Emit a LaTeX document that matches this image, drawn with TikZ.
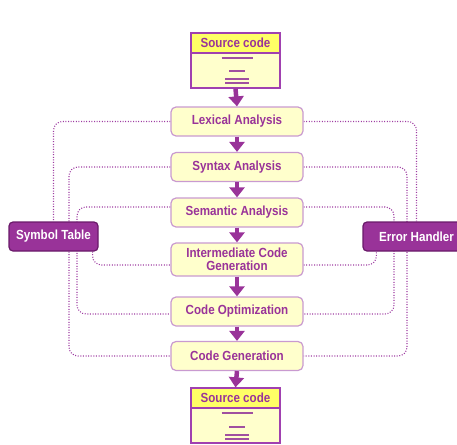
\documentclass[tikz,border=0pt]{standalone}
\usepackage{fontspec}
\setmainfont[FakeStretch=0.88]{Liberation Sans}
\usetikzlibrary{arrows.meta,calc,backgrounds}
\definecolor{pur}{HTML}{993399}
\definecolor{boxfill}{HTML}{FFFFCC}
\definecolor{boxborder}{HTML}{C99AD0}
\definecolor{srcborder}{HTML}{A040B0}
\definecolor{headfill}{HTML}{FFFF66}
\definecolor{dotcol}{HTML}{9E3CA2}
\definecolor{hdark}{HTML}{6A1A6A}
\definecolor{linecol}{HTML}{A050A0}
\begin{document}
\begin{tikzpicture}[x=1pt,y=-1pt,
  lbl/.style={font=\fontsize{13.2}{12.7}\selectfont\bfseries},
  stage/.style={lbl, draw=boxborder, line width=1.2pt, fill=boxfill, rounded corners=5pt,
    minimum width=132pt, minimum height=29pt, inner sep=0pt, text=pur, align=center},
  srcbox/.style={draw=srcborder, line width=1.3pt, fill=boxfill, minimum width=89pt,
    minimum height=55pt, inner sep=0pt},
  srchead/.style={lbl, draw=srcborder, line width=1.3pt, fill=headfill, minimum width=89pt,
    minimum height=20pt, inner sep=0pt, text=pur, anchor=north},
  srcline/.style={draw=linecol, line width=2pt},
  flowarrow/.style={draw=pur, line width=4.5pt, -{Triangle[width=15pt,length=10pt]}},
  dotline/.style={draw=dotcol, line width=1.1pt, dash pattern=on 1pt off 1.6pt, rounded corners=9pt},
  handler/.style={lbl, draw=hdark, line width=1.2pt, fill=pur, rounded corners=4pt,
    minimum height=29pt, inner sep=0pt, text=white}
]
\useasboundingbox (0,0) rectangle (457,444);
\clip (0,0) rectangle (457,444);

% source code (top)
\node[srcbox] (src) at (235.5,60.5) {};
\node[srchead] (srch) at (src.north) {Source code};
\draw[srcline] (221.5,58) -- (252.5,58);
\draw[srcline] (229,71) -- (244.5,71);
\draw[srcline] (225,79) -- (248.5,79);
\draw[srcline] (225,83) -- (248.5,83);

% stages
\node[stage] (lex) at (237,121.5) {Lexical Analysis};
\node[stage] (syn) at (237,167) {Syntax Analysis};
\node[stage] (sem) at (237,212.5) {Semantic Analysis};
\node[stage, minimum height=33pt] (inter) at (237,259.5) {Intermediate Code\\Generation};
\node[stage] (opt) at (237,311.5) {Code Optimization};
\node[stage] (gen) at (237,356) {Code Generation};

% source code (bottom)
\node[srcbox] (src2) at (235.5,415.5) {};
\node[srchead] (srch2) at (src2.north) {Source code};
\draw[srcline] (221.5,413) -- (252.5,413);
\draw[srcline] (229,426.5) -- (244.5,426.5);
\draw[srcline] (225,434.5) -- (248.5,434.5);
\draw[srcline] (225,438.5) -- (248.5,438.5);

% side boxes
\node[handler, minimum width=89pt] (st) at (53.5,236.5) {Symbol Table};
\node[handler, minimum width=107pt] (eh) at (416.5,236.5) {Error Handler};

% flow arrows
\draw[flowarrow] (src.south) -- (lex.north);
\draw[flowarrow] (lex.south) -- (syn.north);
\draw[flowarrow] (syn.south) -- (sem.north);
\draw[flowarrow] (sem.south) -- (inter.north);
\draw[flowarrow] (inter.south) -- (opt.north);
\draw[flowarrow] (opt.south) -- (gen.north);
\draw[flowarrow] (gen.south) -- (src2.north);

% dotted links
\begin{pgfonlayer}{background}
\draw[dotline] (lex.west) -| (st.north);
\draw[dotline] (syn.west) -| ($(st.center)+(15.5,0)$) |- (gen.west);
\draw[dotline] ([yshift=5.5pt]sem.west) -| ($(st.center)+(23.5,0)$) |- ([yshift=-2.5pt]opt.west);
\draw[dotline] ([xshift=-6pt]st.south east) |- ([yshift=-5.5pt]inter.west);
\draw[dotline] (lex.east) -| (eh.north);
\draw[dotline] (syn.east) -| ($(eh.center)+(-9.5,0)$) |- (gen.east);
\draw[dotline] ([yshift=5.5pt]sem.east) -| ($(eh.center)+(-22.5,0)$) |- ([yshift=-2.5pt]opt.east);
\draw[dotline] ([yshift=-5.5pt]inter.east) -| ([xshift=14pt]eh.south west);
\end{pgfonlayer}
\end{tikzpicture}
\end{document}
